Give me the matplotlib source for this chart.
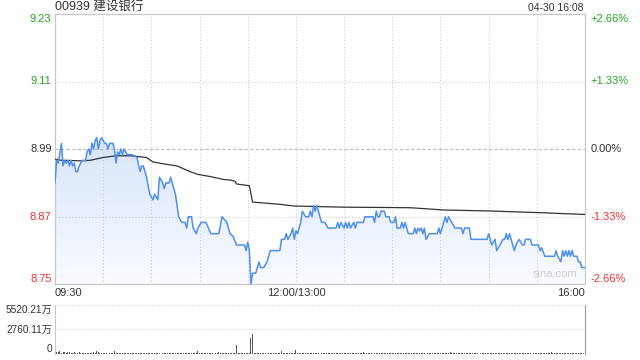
import numpy as np
import matplotlib.pyplot as plt
from matplotlib.colors import LinearSegmentedColormap

plt.rcParams['font.family'] = ['Liberation Sans', 'Noto Sans CJK SC']

# intraday data, minutes from 09:30 (lunch break removed)
prev_close = 8.99
price_minutes = [0, 1, 2, 4, 5, 6, 7, 8, 9, 10, 11, 12, 13, 14, 15, 17, 19, 20, 21, 22,
                 23, 24, 25, 26, 27, 28, 29, 31, 32, 33, 34, 36, 37, 38, 39, 40, 41, 42, 43, 45,
                 48, 51, 53, 54, 55, 57, 59, 61, 62, 64, 65, 67, 68, 69, 71, 72, 74, 75, 77, 79,
                 81, 82, 83, 85, 86, 88, 89, 91, 94, 97, 102, 104, 107, 109, 111, 113, 118, 119, 120, 121,
                 122, 123, 125, 126, 127, 128, 130, 132, 134, 140, 141, 143, 144, 145, 146, 147, 148, 149, 150, 151,
                 152, 153, 154, 156, 158, 159, 160, 161, 162, 163, 165, 166, 168, 170, 175, 176, 177, 178, 180, 181,
                 182, 183, 184, 186, 187, 188, 192, 193, 198, 199, 200, 201, 202, 203, 205, 206, 208, 209, 211, 212,
                 213, 215, 216, 217, 218, 220, 223, 224, 225, 226, 227, 228, 229, 230, 231, 233, 238, 239, 240, 241,
                 242, 243, 244, 245, 247, 249, 253, 254, 255, 258, 259, 269, 270, 271, 272, 274, 275, 276, 277, 279,
                 280, 281, 282, 283, 284, 286, 287, 289, 291, 292, 293, 296, 297, 301, 302, 303, 305, 311, 312, 313,
                 315, 316, 317, 318, 319, 320, 321, 322, 323, 325, 326, 327, 328, 330]
price_values = [8.93, 8.97, 8.965, 9.00, 8.96, 8.97, 8.965, 8.97, 8.96, 8.97, 8.96, 8.965, 8.95, 8.95, 8.96, 8.97, 8.97, 8.985, 8.99, 8.98,
                9.00, 8.99, 9.005, 9.01, 8.99, 9.005, 9.01, 9.00, 9.00, 8.99, 9.00, 9.00, 8.99, 8.965, 8.985, 8.98, 8.99, 8.98, 8.99, 8.98,
                8.98, 8.975, 8.95, 8.96, 8.96, 8.94, 8.91, 8.90, 8.91, 8.90, 8.94, 8.93, 8.92, 8.93, 8.93, 8.94, 8.92, 8.91, 8.87, 8.86,
                8.86, 8.85, 8.87, 8.87, 8.85, 8.84, 8.85, 8.86, 8.86, 8.84, 8.84, 8.87, 8.86, 8.84, 8.835, 8.82, 8.82, 8.81, 8.825, 8.81,
                8.75, 8.77, 8.77, 8.78, 8.79, 8.78, 8.78, 8.79, 8.81, 8.81, 8.83, 8.83, 8.84, 8.83, 8.835, 8.84, 8.85, 8.83, 8.845, 8.84,
                8.85, 8.86, 8.88, 8.87, 8.87, 8.88, 8.87, 8.89, 8.88, 8.89, 8.87, 8.86, 8.86, 8.85, 8.85, 8.86, 8.85, 8.86, 8.85, 8.86,
                8.85, 8.86, 8.85, 8.86, 8.85, 8.86, 8.86, 8.87, 8.87, 8.86, 8.88, 8.87, 8.87, 8.88, 8.88, 8.87, 8.87, 8.86, 8.86, 8.87,
                8.85, 8.85, 8.86, 8.85, 8.86, 8.84, 8.84, 8.85, 8.84, 8.85, 8.845, 8.85, 8.84, 8.85, 8.83, 8.84, 8.84, 8.85, 8.84, 8.85,
                8.86, 8.87, 8.86, 8.87, 8.86, 8.85, 8.85, 8.84, 8.85, 8.85, 8.83, 8.83, 8.84, 8.83, 8.82, 8.83, 8.81, 8.815, 8.82, 8.83,
                8.83, 8.84, 8.83, 8.84, 8.83, 8.81, 8.82, 8.83, 8.82, 8.82, 8.83, 8.83, 8.82, 8.82, 8.81, 8.815, 8.80, 8.80, 8.81, 8.80,
                8.79, 8.81, 8.80, 8.81, 8.80, 8.81, 8.80, 8.81, 8.80, 8.80, 8.79, 8.79, 8.78, 8.78]

avg_minutes = [0, 4, 17, 22, 30, 38, 47, 57, 61, 67, 76, 84, 89, 97, 105, 109, 112, 113, 121, 123,
               140, 149, 179, 221, 242, 273, 304, 330]
avg_values = [8.972, 8.970, 8.969, 8.970, 8.975, 8.978, 8.978, 8.975, 8.967, 8.964, 8.960, 8.950, 8.945, 8.941, 8.936, 8.935, 8.933, 8.928, 8.925, 8.896,
              8.892, 8.889, 8.887, 8.886, 8.882, 8.880, 8.877, 8.874]

# volume per minute (万股)
volume = [420, 180, 260, 310, 150, 220, 280, 130, 190, 240, 160, 110, 200, 140, 90, 170, 120, 80, 150, 100, 130, 90, 160, 120, 210, 140, 330, 180, 120, 160,
          110, 90, 140, 80, 120, 100, 150, 380, 130, 90, 110, 70, 100, 130, 80, 90, 120, 70, 110, 90, 140, 80, 100, 160, 120, 90, 70, 130, 110, 150,
          90, 120, 80, 140, 100, 70, 110, 90, 130, 80, 100, 120, 70, 90, 110, 80, 150, 120, 90, 100, 70, 130, 90, 110, 80, 100, 120, 90, 140, 300,
          110, 80, 100, 70, 120, 90, 110, 80, 130, 100, 70, 90, 280, 110, 80, 120, 90, 100, 70, 110, 90, 80, 120, 1050, 100, 80, 110, 90, 130, 80,
          120, 90, 1750, 2250, 150, 100, 130, 90, 80, 110, 120, 90, 100, 80, 130, 90, 110, 80, 100, 120, 90, 330, 100, 80, 110, 90, 120, 80, 100, 90,
          420, 110, 80, 100, 90, 120, 80, 110, 90, 70, 100, 80, 120, 90, 80, 100, 70, 110, 90, 80, 100, 90, 70, 110, 80, 90, 100, 70, 90, 80,
          110, 80, 90, 70, 100, 90, 80, 110, 70, 90, 100, 80, 200, 90, 70, 100, 80, 90, 110, 70, 90, 80, 100, 70, 90, 80, 110, 90, 70, 100,
          80, 90, 70, 110, 90, 80, 100, 70, 90, 80, 110, 90, 70, 100, 80, 90, 70, 110, 80, 90, 100, 70, 90, 80, 110, 70, 90, 80, 100, 90,
          70, 110, 80, 90, 100, 70, 220, 90, 80, 100, 70, 90, 110, 80, 90, 70, 100, 80, 90, 110, 70, 90, 80, 100, 70, 90, 80, 110, 90, 70,
          100, 80, 90, 70, 110, 90, 80, 100, 70, 90, 80, 110, 90, 70, 100, 80, 90, 110, 70, 90, 80, 100, 90, 70, 110, 80, 90, 70, 100, 80,
          90, 110, 70, 90, 80, 100, 90, 70, 110, 200, 90, 80, 100, 70, 90, 110, 80, 90, 70, 100, 80, 90, 110, 70, 90, 80, 100, 90, 70, 110,
          150]

pct_levels = [2.66, 1.33, 0.0, -1.33, -2.66]
price_labels = ['9.23', '9.11', '8.99', '8.87', '8.75']
pct_labels = ['+2.66%', '+1.33%', '0.00%', '-1.33%', '-2.66%']
time_ticks = [0, 150, 330]
time_labels = ['09:30', '12:00/13:00', '16:00']
vol_ticks = [0, 2760.11, 5520.21]
vol_labels = ['0', '2760.11万', '5520.21万']

green, red, dark = '#22a822', '#f03030', '#333333'
label_colors = [green, green, dark, red, red]
levels = [prev_close * (1 + p / 100) for p in pct_levels]
y_lo, y_hi = levels[-1], levels[0]

fig = plt.figure(figsize=(6.4, 3.6), dpi=100)
ax = fig.add_axes([55 / 640, 76 / 360, 530 / 640, 270 / 360])
vax = fig.add_axes([55 / 640, 6 / 360, 530 / 640, 49 / 360])

# gradient area under price line
fill = ax.fill_between(price_minutes, price_values, y_lo, facecolor='none', edgecolor='none')
grad = np.linspace(0, 1, 256).reshape(-1, 1)
cmap = LinearSegmentedColormap.from_list('area', ['#f9fbff', '#d8e5fa'])
im = ax.imshow(grad, extent=[0, 330, y_lo, max(price_values)], origin='lower',
               aspect='auto', cmap=cmap, zorder=1)
im.set_clip_path(fill.get_paths()[0], transform=ax.transData)

ax.plot(avg_minutes, avg_values, color='#333333', lw=0.9, zorder=4)
ax.plot(price_minutes, price_values, color='#4d8ff2', lw=1.1, zorder=5)

# grid
for t in range(30, 330, 30):
    ax.axvline(t, color='#cccccc', lw=0.8, ls=(0, (1, 2)), zorder=2)
for lv in levels[1:-1]:
    if lv == prev_close:
        ax.axhline(lv, color='#bbbbbb', lw=0.8, ls=(0, (3, 2)), zorder=2)
    else:
        ax.axhline(lv, color='#cccccc', lw=0.8, ls=(0, (1, 2)), zorder=2)

ax.set_xlim(0, 330)
ax.set_ylim(y_lo, y_hi)
for s in ax.spines.values():
    s.set_color('#c8c8c8')
    s.set_linewidth(0.9)

ax.set_yticks(levels, price_labels)
ax.tick_params(axis='y', length=0, pad=2.5, labelsize=8)
vas = ['top', 'center', 'center', 'center', 'bottom']
for lab, c, va in zip(ax.get_yticklabels(), label_colors, vas):
    lab.set_color(c)
    lab.set_va(va)

ax.set_xticks(time_ticks, time_labels)
ax.tick_params(axis='x', length=0, pad=3, labelsize=8, labelcolor=dark)
for lab, ha in zip(ax.get_xticklabels(), ['left', 'center', 'right']):
    lab.set_ha(ha)

ax2 = ax.twinx()
ax2.set_ylim(y_lo, y_hi)
ax2.set_yticks(levels, pct_labels)
ax2.tick_params(axis='y', length=0, pad=4, labelsize=8)
for lab, c, va in zip(ax2.get_yticklabels(), label_colors, vas):
    lab.set_color(c)
    lab.set_va(va)
for s in ax2.spines.values():
    s.set_visible(False)

ax.text(0.985, 0.02, 'sina.com', transform=ax.transAxes, ha='right', va='bottom',
        fontsize=8, color='#cfcfcf')

# volume panel
vax.bar(np.arange(len(volume)), volume, width=0.6, color='#555555', zorder=3)
vax.set_xlim(0, 330)
vax.set_ylim(0, vol_ticks[-1])
for v in vol_ticks[1:]:
    vax.axhline(v, color='#cccccc', lw=0.8, ls=(0, (1, 2)), zorder=1)
vax.spines['top'].set_visible(False)
vax.spines['bottom'].set_visible(False)
vax.spines['left'].set_color('#c8c8c8')
vax.spines['right'].set_color('#999999')
vax.set_xticks([])
vax.set_yticks(vol_ticks, vol_labels)
vax.tick_params(axis='y', length=0, pad=2, labelsize=7.3, labelcolor=dark)
for lab, va in zip(vax.get_yticklabels(), ['bottom', 'center', 'top']):
    lab.set_va(va)

fig.text(55 / 640, 1 - 7 / 360, '00939 建设银行', ha='left', va='center', fontsize=9, color=dark)
fig.text(584 / 640, 1 - 8 / 360, '04-30 16:08', ha='right', va='center', fontsize=7.5, color=dark)

fig.savefig('out.png', dpi=100)
